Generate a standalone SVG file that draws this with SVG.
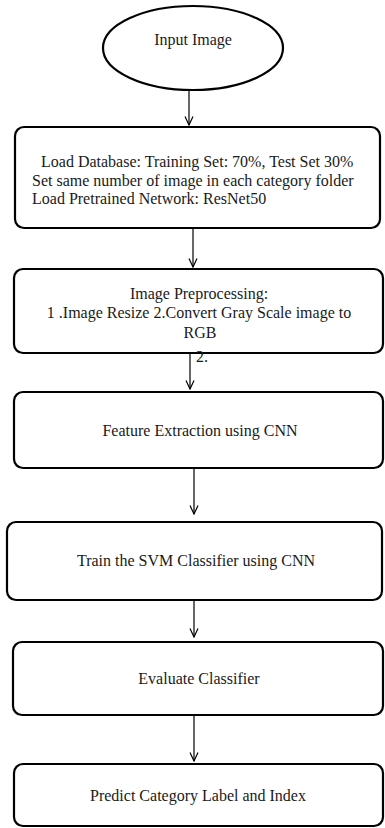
<svg xmlns="http://www.w3.org/2000/svg" width="385" height="828" viewBox="0 0 385 828">
  <style>
    .shape { fill: #ffffff; stroke: #000000; stroke-width: 2.2; }
    .label { font-family: "Liberation Serif", "Times New Roman", serif; font-size: 16px; fill: #1a1a1a; }
    .mid { text-anchor: middle; }
    .link { stroke: #000000; stroke-width: 1.2; fill: none; marker-end: url(#head); }
  </style>
  <defs>
    <!-- open V arrowhead, drawn along +x so orient="auto" points it down the line -->
    <marker id="head" viewBox="0 0 10 10" refX="9.5" refY="5" markerWidth="10" markerHeight="10" markerUnits="userSpaceOnUse" orient="auto">
      <path d="M1,1 L9.5,5 L1,9" fill="none" stroke="#000" stroke-width="1.2"/>
    </marker>
  </defs>
  <rect width="385" height="828" fill="#ffffff"/>

  <g id="connectors">
    <line class="link" x1="189" y1="90" x2="189" y2="125"/>
    <line class="link" x1="193" y1="228" x2="193" y2="267"/>
    <line class="link" x1="190" y1="353" x2="190" y2="389"/>
    <line class="link" x1="194" y1="468" x2="194" y2="514"/>
    <line class="link" x1="194" y1="600" x2="194" y2="637"/>
    <line class="link" x1="194" y1="715" x2="194" y2="761"/>
  </g>

  <g id="input-image">
    <ellipse class="shape" cx="193" cy="48" rx="90" ry="42"/>
    <text class="label mid" x="193" y="45">Input Image</text>
  </g>

  <g id="load-database">
    <rect class="shape" x="15" y="127" width="365" height="101" rx="9"/>
    <text class="label" x="41" y="167">Load Database: Training Set: 70%, Test Set 30%</text>
    <text class="label" x="32" y="186">Set same number of image in each category folder</text>
    <text class="label" x="32" y="204">Load Pretrained Network: ResNet50</text>
  </g>

  <g id="preprocessing">
    <rect class="shape" x="14" y="269" width="369" height="84" rx="9"/>
    <text class="label mid" x="199" y="299">Image Preprocessing:</text>
    <text class="label mid" x="199" y="318">1 .Image Resize 2.Convert Gray Scale image to</text>
    <text class="label mid" x="200" y="338">RGB</text>
    <text class="label" x="196" y="362">2.</text>
  </g>

  <g id="feature-extraction">
    <rect class="shape" x="14" y="392" width="369" height="76" rx="9"/>
    <text class="label mid" x="200" y="436">Feature Extraction using CNN</text>
  </g>

  <g id="train-svm">
    <rect class="shape" x="7" y="522" width="375" height="78" rx="9"/>
    <text class="label mid" x="196" y="566">Train the SVM Classifier using CNN</text>
  </g>

  <g id="evaluate">
    <rect class="shape" x="13" y="642" width="370" height="73" rx="9"/>
    <text class="label mid" x="199" y="684">Evaluate Classifier</text>
  </g>

  <g id="predict">
    <rect class="shape" x="14" y="764" width="369" height="62" rx="9"/>
    <text class="label mid" x="198" y="801">Predict Category Label and Index</text>
  </g>
</svg>
